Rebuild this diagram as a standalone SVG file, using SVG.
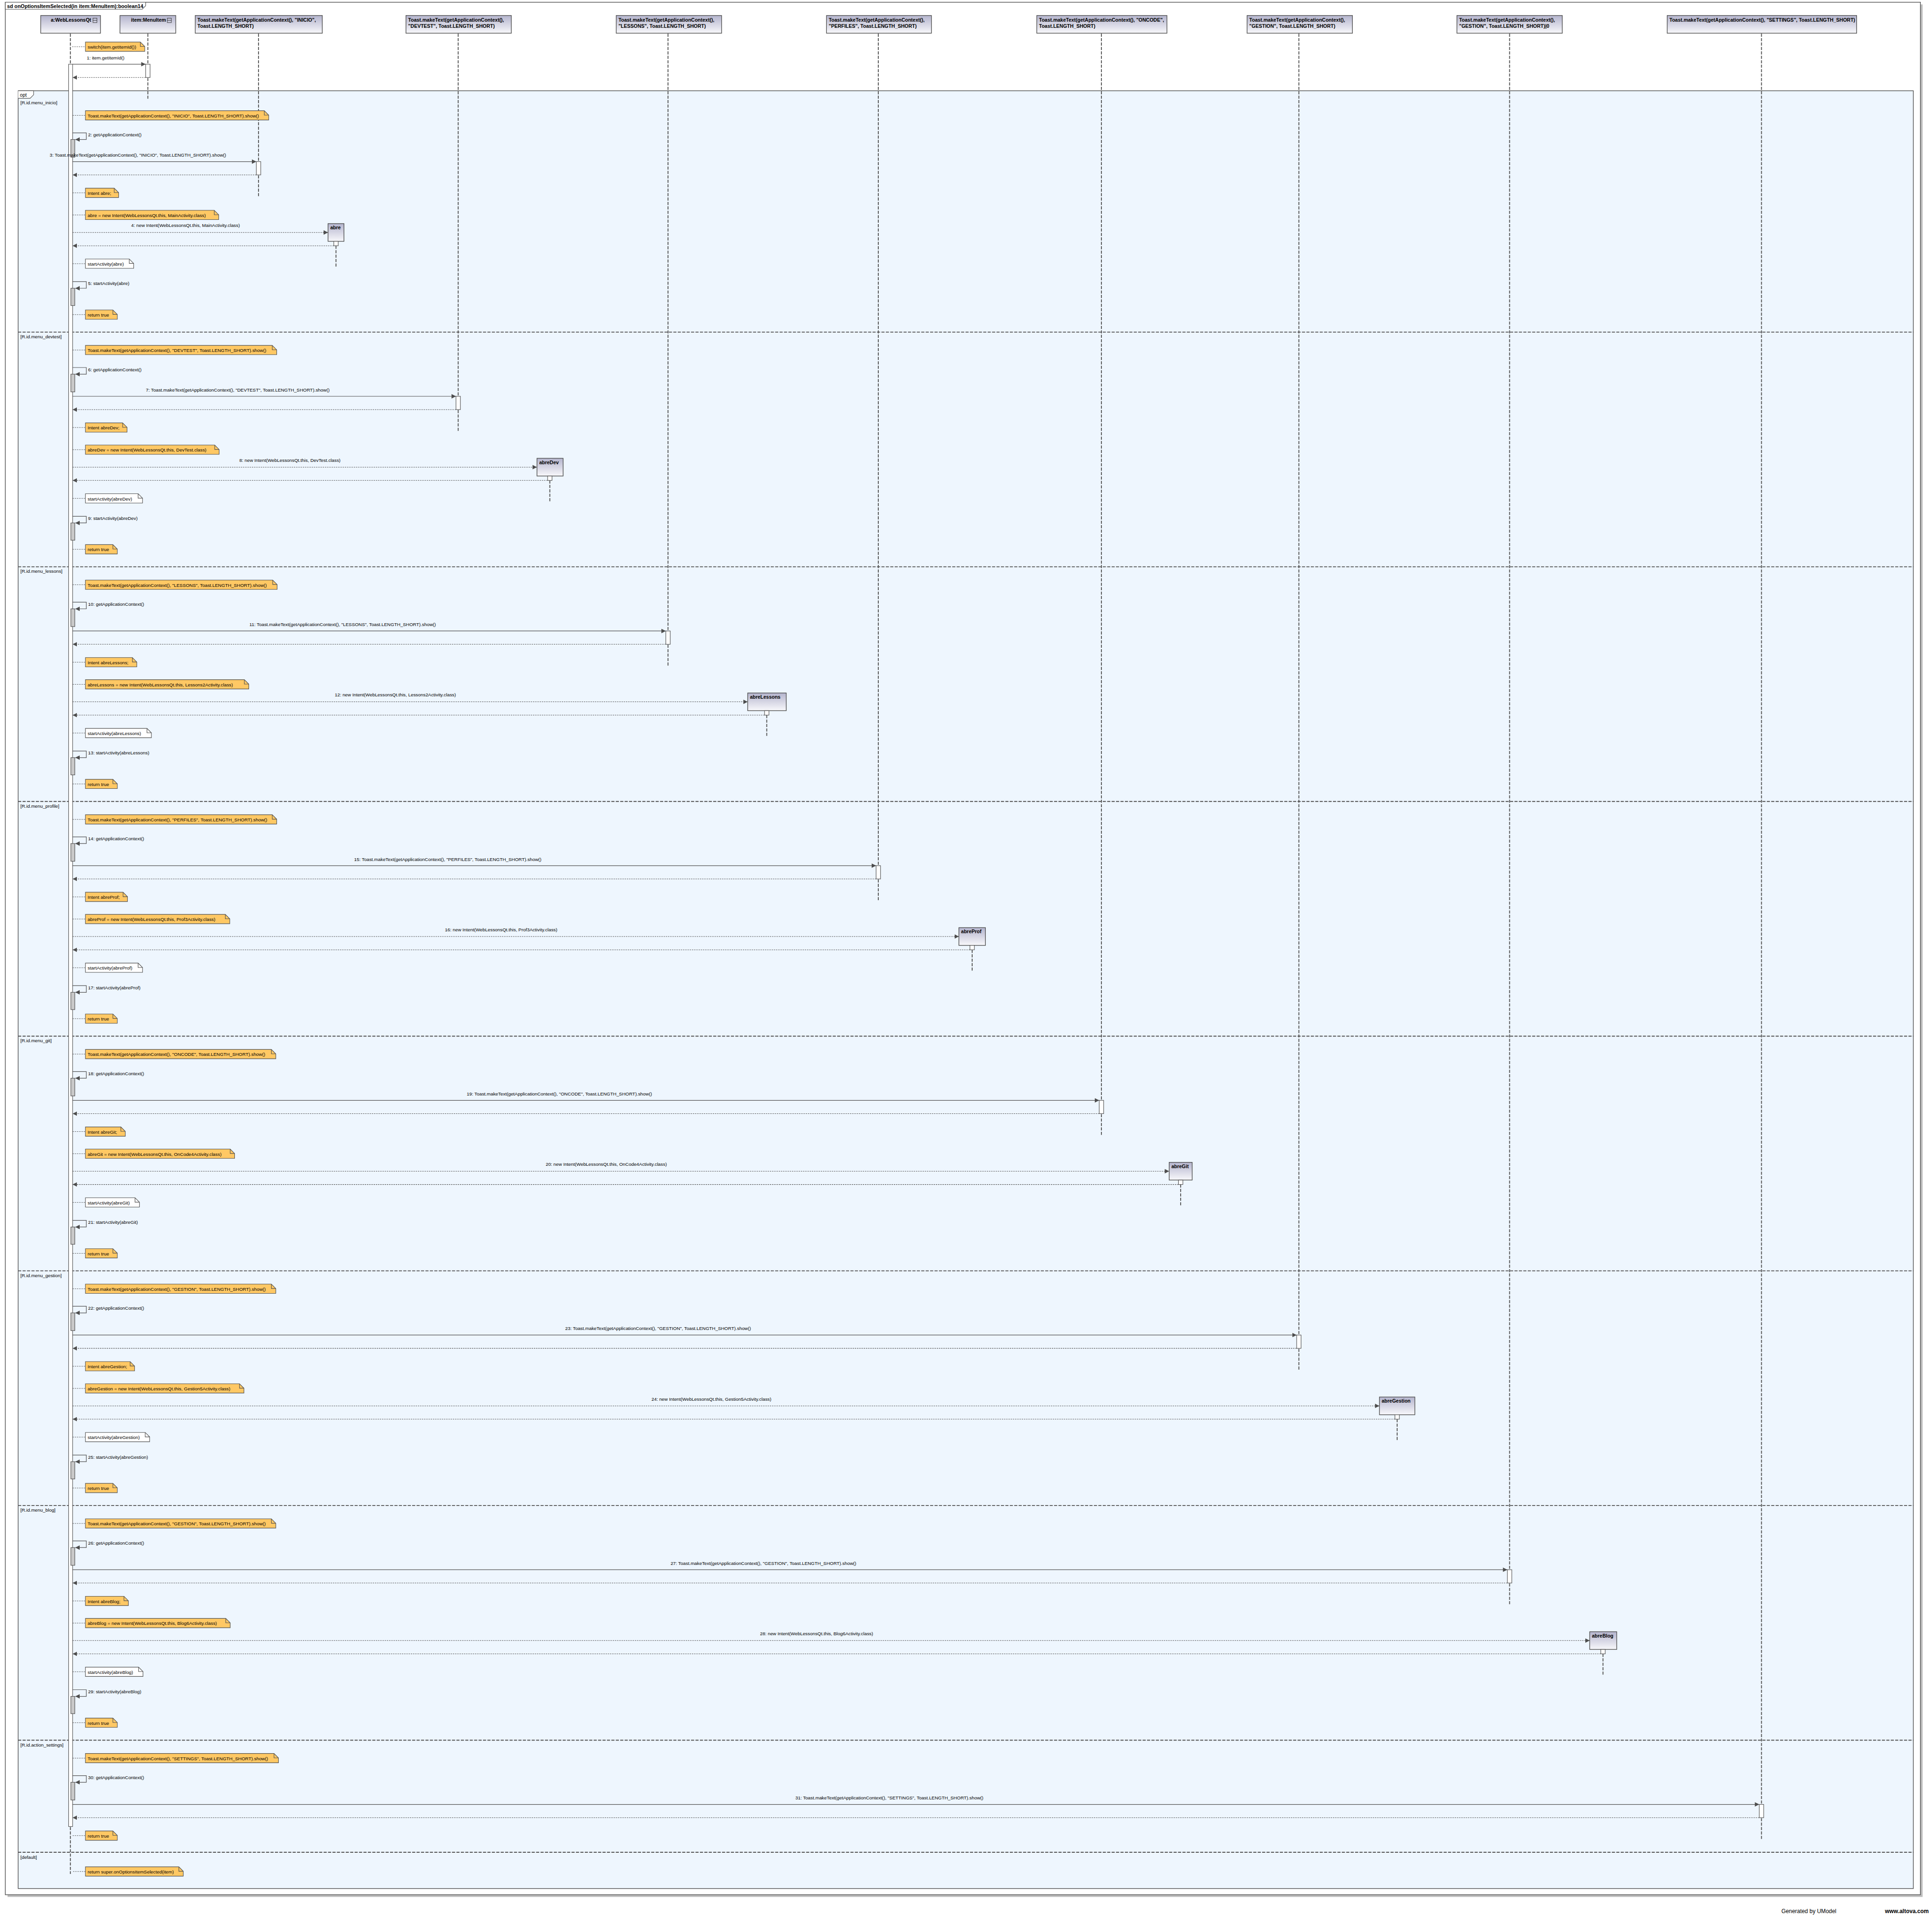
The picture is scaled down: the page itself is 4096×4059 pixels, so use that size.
<svg xmlns="http://www.w3.org/2000/svg" width="4096" height="4059" viewBox="0 0 4096 4059">
<defs>
<style>
text{font-family:"Liberation Sans",Arial,sans-serif;font-size:10.5px;fill:#000}
.b{font-weight:bold;font-size:11.2px}
.m{text-anchor:middle}
.note{fill:#FFC864;stroke:#505050;stroke-width:1.2}
.wnote{fill:#FFFFFF;stroke:#505050;stroke-width:1.2}
.fold{fill:none;stroke:#505050;stroke-width:1.2}
.head{fill:url(#hg);stroke:#505050;stroke-width:1.5}
.ll{stroke:#505050;stroke-width:2;stroke-dasharray:7 3;fill:none}
.sep{stroke:#505050;stroke-width:2;stroke-dasharray:7 3;fill:none}
.msg{stroke:#505050;stroke-width:1.3;fill:none;marker-end:url(#ah)}
.ret{stroke:#505050;stroke-width:1.1;stroke-dasharray:3 2;fill:none;marker-end:url(#ah)}
.lnk{stroke:#505050;stroke-width:1;stroke-dasharray:3 2;fill:none}
.act{fill:#FFFFFF;stroke:#505050;stroke-width:1.2}
.gact{fill:#C8C8C8;stroke:#505050;stroke-width:1.2}
</style>
<linearGradient id="hg" x1="0" y1="0" x2="0" y2="1"><stop offset="0" stop-color="#B4B4CD"/><stop offset="1" stop-color="#F8F8FB"/></linearGradient>
<marker id="ah" markerUnits="userSpaceOnUse" markerWidth="12" markerHeight="12" refX="10" refY="5" orient="auto"><path d="M0,0 L10,5 L0,10 z" fill="#4D4D4D"/></marker>
</defs>
<rect width="4096" height="4059" fill="#FFFFFF"/>
<g transform="scale(0.93855)">
<g id="frame">
<rect x="17" y="10" width="4326" height="4274" fill="#BEBEBE"/>
<rect x="12" y="5" width="4326" height="4274" fill="#FFFFFF" stroke="#505050" stroke-width="1.5"/>
<path d="M12,5 H329 V13 L321,21 H12 z" fill="#FFFFFF" stroke="#505050" stroke-width="1.2"/>
<text x="16" y="18" class="b" style="font-size:11.5px">sd onOptionsItemSelected(in item:MenuItem):boolean14</text>
<rect x="41" y="205" width="4281" height="4060" fill="#EEF6FE" stroke="#505050" stroke-width="1.5"/>
<path d="M41,205 H76 V214 L68,222 H41" fill="#FFFFFF" stroke="#505050" stroke-width="1.2"/>
<text x="45" y="218" style="font-size:11px">opt</text>
<text x="46" y="236">[R.id.menu_inicio]</text>
<path class="sep" d="M41,750H4322M41,1280H4322M41,1810H4322M41,2340H4322M41,2870H4322M41,3400H4322M41,3930H4322M41,4183H4322"/>
<text x="46" y="764">[R.id.menu_devtest]</text>
<text x="46" y="1294">[R.id.menu_lessons]</text>
<text x="46" y="1824">[R.id.menu_profile]</text>
<text x="46" y="2354">[R.id.menu_git]</text>
<text x="46" y="2884">[R.id.menu_gestion]</text>
<text x="46" y="3414">[R.id.menu_blog]</text>
<text x="46" y="3944">[R.id.action_settings]</text>
<text x="46" y="4198">[default]</text>
</g>
<g id="lifelines">
<path class="ll" d="M159,76V4232M334,76V223M584,76V445M1035,76V975M1509,76V1505M1984,76V2035M2488,76V2565M2934,76V3095M3410,76V3625M3979,76V4155"/>
<path class="ll" d="M759,545V605M1242,1075V1135M1732,1605V1665M2196,2135V2195M2667,2665V2725M3156,3195V3255M3621,3725V3785"/>
</g>
<g id="head-a"><rect class="head" x="92" y="35" width="135" height="40"/><text x="206" y="49" class="b" style="text-anchor:end">a:WebLessonsQt</text><rect x="210" y="41" width="9" height="10" fill="none" stroke="#333" stroke-width="1"/><path d="M210,46H219" stroke="#333" stroke-width="1"/></g>
<g id="head-item"><rect class="head" x="271" y="35" width="126" height="40"/><text x="375" y="49" class="b" style="text-anchor:end">item:MenuItem</text><rect x="378" y="41" width="9" height="10" fill="none" stroke="#333" stroke-width="1"/><path d="M378,46H387" stroke="#333" stroke-width="1"/></g>
<g id="head-inicio"><rect class="head" x="441" y="35" width="287" height="40"/><text x="446" y="49" class="b">Toast.makeText(getApplicationContext(), "INICIO",</text><text x="446" y="63" class="b">Toast.LENGTH_SHORT)</text></g>
<g id="head-devtest"><rect class="head" x="917" y="35" width="238" height="40"/><text x="922" y="49" class="b">Toast.makeText(getApplicationContext(),</text><text x="922" y="63" class="b">"DEVTEST", Toast.LENGTH_SHORT)</text></g>
<g id="head-lessons"><rect class="head" x="1392" y="35" width="238" height="40"/><text x="1397" y="49" class="b">Toast.makeText(getApplicationContext(),</text><text x="1397" y="63" class="b">"LESSONS", Toast.LENGTH_SHORT)</text></g>
<g id="head-perfiles"><rect class="head" x="1867" y="35" width="237" height="40"/><text x="1872" y="49" class="b">Toast.makeText(getApplicationContext(),</text><text x="1872" y="63" class="b">"PERFILES", Toast.LENGTH_SHORT)</text></g>
<g id="head-oncode"><rect class="head" x="2342" y="35" width="294" height="40"/><text x="2347" y="49" class="b">Toast.makeText(getApplicationContext(), "ONCODE",</text><text x="2347" y="63" class="b">Toast.LENGTH_SHORT)</text></g>
<g id="head-gestion"><rect class="head" x="2817" y="35" width="238" height="40"/><text x="2822" y="49" class="b">Toast.makeText(getApplicationContext(),</text><text x="2822" y="63" class="b">"GESTION", Toast.LENGTH_SHORT)</text></g>
<g id="head-gestion0"><rect class="head" x="3291" y="35" width="238" height="40"/><text x="3296" y="49" class="b">Toast.makeText(getApplicationContext(),</text><text x="3296" y="63" class="b">"GESTION", Toast.LENGTH_SHORT)|0</text></g>
<g id="head-settings"><rect class="head" x="3766" y="35" width="428" height="40"/><text x="3771" y="49" class="b">Toast.makeText(getApplicationContext(), "SETTINGS", Toast.LENGTH_SHORT)</text></g>
<g id="obj-abre"><rect class="head" x="741" y="505" width="36" height="40"/><text x="746" y="518" class="b">abre</text></g>
<g id="obj-abreDev"><rect class="head" x="1213" y="1035" width="59" height="40"/><text x="1218" y="1048" class="b">abreDev</text></g>
<g id="obj-abreLessons"><rect class="head" x="1689" y="1565" width="87" height="40"/><text x="1694" y="1578" class="b">abreLessons</text></g>
<g id="obj-abreProf"><rect class="head" x="2166" y="2095" width="60" height="40"/><text x="2171" y="2108" class="b">abreProf</text></g>
<g id="obj-abreGit"><rect class="head" x="2641" y="2625" width="52" height="40"/><text x="2646" y="2638" class="b">abreGit</text></g>
<g id="obj-abreGestion"><rect class="head" x="3116" y="3155" width="80" height="40"/><text x="3121" y="3168" class="b">abreGestion</text></g>
<g id="obj-abreBlog"><rect class="head" x="3591" y="3685" width="61" height="40"/><text x="3596" y="3698" class="b">abreBlog</text></g>
<g id="notes">
<g id="n-switch"><path class="note" d="M193,95h124l10,10v11h-134z"/><path class="fold" d="M317,95v10h10"/><text x="198" y="110">switch(item.getItemId())</text></g>
<g id="n1a"><path class="note" d="M193,250h404l10,10v11h-414z"/><path class="fold" d="M597,250v10h10"/><text x="198" y="265">Toast.makeText(getApplicationContext(), "INICIO", Toast.LENGTH_SHORT).show()</text></g>
<g id="n1b"><path class="note" d="M193,425h65l10,10v11h-75z"/><path class="fold" d="M258,425v10h10"/><text x="198" y="440">Intent abre;</text></g>
<g id="n1c"><path class="note" d="M193,475h291l10,10v11h-301z"/><path class="fold" d="M484,475v10h10"/><text x="198" y="490">abre = new Intent(WebLessonsQt.this, MainActivity.class)</text></g>
<g id="n1d"><path class="wnote" d="M193,585h99l10,10v11h-109z"/><path class="fold" d="M292,585v10h10"/><text x="198" y="600">startActivity(abre)</text></g>
<g id="n1e"><path class="note" d="M193,700h62l10,10v11h-72z"/><path class="fold" d="M255,700v10h10"/><text x="198" y="715">return true</text></g>
<g id="n2a"><path class="note" d="M193,780h422l10,10v11h-432z"/><path class="fold" d="M615,780v10h10"/><text x="198" y="795">Toast.makeText(getApplicationContext(), "DEVTEST", Toast.LENGTH_SHORT).show()</text></g>
<g id="n2b"><path class="note" d="M193,955h84l10,10v11h-94z"/><path class="fold" d="M277,955v10h10"/><text x="198" y="970">Intent abreDev;</text></g>
<g id="n2c"><path class="note" d="M193,1005h292l10,10v11h-302z"/><path class="fold" d="M485,1005v10h10"/><text x="198" y="1020">abreDev = new Intent(WebLessonsQt.this, DevTest.class)</text></g>
<g id="n2d"><path class="wnote" d="M193,1115h119l10,10v11h-129z"/><path class="fold" d="M312,1115v10h10"/><text x="198" y="1130">startActivity(abreDev)</text></g>
<g id="n2e"><path class="note" d="M193,1230h62l10,10v11h-72z"/><path class="fold" d="M255,1230v10h10"/><text x="198" y="1245">return true</text></g>
<g id="n3a"><path class="note" d="M193,1310h423l10,10v11h-433z"/><path class="fold" d="M616,1310v10h10"/><text x="198" y="1325">Toast.makeText(getApplicationContext(), "LESSONS", Toast.LENGTH_SHORT).show()</text></g>
<g id="n3b"><path class="note" d="M193,1485h106l10,10v11h-116z"/><path class="fold" d="M299,1485v10h10"/><text x="198" y="1500">Intent abreLessons;</text></g>
<g id="n3c"><path class="note" d="M193,1535h359l10,10v11h-369z"/><path class="fold" d="M552,1535v10h10"/><text x="198" y="1550">abreLessons = new Intent(WebLessonsQt.this, Lessons2Activity.class)</text></g>
<g id="n3d"><path class="wnote" d="M193,1645h139l10,10v11h-149z"/><path class="fold" d="M332,1645v10h10"/><text x="198" y="1660">startActivity(abreLessons)</text></g>
<g id="n3e"><path class="note" d="M193,1760h62l10,10v11h-72z"/><path class="fold" d="M255,1760v10h10"/><text x="198" y="1775">return true</text></g>
<g id="n4a"><path class="note" d="M193,1840h422l10,10v11h-432z"/><path class="fold" d="M615,1840v10h10"/><text x="198" y="1855">Toast.makeText(getApplicationContext(), "PERFILES", Toast.LENGTH_SHORT).show()</text></g>
<g id="n4b"><path class="note" d="M193,2015h85l10,10v11h-95z"/><path class="fold" d="M278,2015v10h10"/><text x="198" y="2030">Intent abreProf;</text></g>
<g id="n4c"><path class="note" d="M193,2065h316l10,10v11h-326z"/><path class="fold" d="M509,2065v10h10"/><text x="198" y="2080">abreProf = new Intent(WebLessonsQt.this, Prof3Activity.class)</text></g>
<g id="n4d"><path class="wnote" d="M193,2175h119l10,10v11h-129z"/><path class="fold" d="M312,2175v10h10"/><text x="198" y="2190">startActivity(abreProf)</text></g>
<g id="n4e"><path class="note" d="M193,2290h62l10,10v11h-72z"/><path class="fold" d="M255,2290v10h10"/><text x="198" y="2305">return true</text></g>
<g id="n5a"><path class="note" d="M193,2370h420l10,10v11h-430z"/><path class="fold" d="M613,2370v10h10"/><text x="198" y="2385">Toast.makeText(getApplicationContext(), "ONCODE", Toast.LENGTH_SHORT).show()</text></g>
<g id="n5b"><path class="note" d="M193,2545h80l10,10v11h-90z"/><path class="fold" d="M273,2545v10h10"/><text x="198" y="2560">Intent abreGit;</text></g>
<g id="n5c"><path class="note" d="M193,2595h327l10,10v11h-337z"/><path class="fold" d="M520,2595v10h10"/><text x="198" y="2610">abreGit = new Intent(WebLessonsQt.this, OnCode4Activity.class)</text></g>
<g id="n5d"><path class="wnote" d="M193,2705h112l10,10v11h-122z"/><path class="fold" d="M305,2705v10h10"/><text x="198" y="2720">startActivity(abreGit)</text></g>
<g id="n5e"><path class="note" d="M193,2820h62l10,10v11h-72z"/><path class="fold" d="M255,2820v10h10"/><text x="198" y="2835">return true</text></g>
<g id="n6a"><path class="note" d="M193,2900h420l10,10v11h-430z"/><path class="fold" d="M613,2900v10h10"/><text x="198" y="2915">Toast.makeText(getApplicationContext(), "GESTION", Toast.LENGTH_SHORT).show()</text></g>
<g id="n6b"><path class="note" d="M193,3075h101l10,10v11h-111z"/><path class="fold" d="M294,3075v10h10"/><text x="198" y="3090">Intent abreGestion;</text></g>
<g id="n6c"><path class="note" d="M193,3125h348l10,10v11h-358z"/><path class="fold" d="M541,3125v10h10"/><text x="198" y="3140">abreGestion = new Intent(WebLessonsQt.this, Gestion5Activity.class)</text></g>
<g id="n6d"><path class="wnote" d="M193,3235h135l10,10v11h-145z"/><path class="fold" d="M328,3235v10h10"/><text x="198" y="3250">startActivity(abreGestion)</text></g>
<g id="n6e"><path class="note" d="M193,3350h62l10,10v11h-72z"/><path class="fold" d="M255,3350v10h10"/><text x="198" y="3365">return true</text></g>
<g id="n7a"><path class="note" d="M193,3430h420l10,10v11h-430z"/><path class="fold" d="M613,3430v10h10"/><text x="198" y="3445">Toast.makeText(getApplicationContext(), "GESTION", Toast.LENGTH_SHORT).show()</text></g>
<g id="n7b"><path class="note" d="M193,3605h87l10,10v11h-97z"/><path class="fold" d="M280,3605v10h10"/><text x="198" y="3620">Intent abreBlog;</text></g>
<g id="n7c"><path class="note" d="M193,3655h317l10,10v11h-327z"/><path class="fold" d="M510,3655v10h10"/><text x="198" y="3670">abreBlog = new Intent(WebLessonsQt.this, Blog6Activity.class)</text></g>
<g id="n7d"><path class="wnote" d="M193,3765h120l10,10v11h-130z"/><path class="fold" d="M313,3765v10h10"/><text x="198" y="3780">startActivity(abreBlog)</text></g>
<g id="n7e"><path class="note" d="M193,3880h62l10,10v11h-72z"/><path class="fold" d="M255,3880v10h10"/><text x="198" y="3895">return true</text></g>
<g id="n8a"><path class="note" d="M193,3960h426l10,10v11h-436z"/><path class="fold" d="M619,3960v10h10"/><text x="198" y="3975">Toast.makeText(getApplicationContext(), "SETTINGS", Toast.LENGTH_SHORT).show()</text></g>
<g id="n8b"><path class="note" d="M193,4135h62l10,10v11h-72z"/><path class="fold" d="M255,4135v10h10"/><text x="198" y="4150">return true</text></g>
<g id="n9"><path class="note" d="M193,4216h211l10,10v11h-221z"/><path class="fold" d="M404,4216v10h10"/><text x="198" y="4231">return super.onOptionsItemSelected(item)</text></g>
</g>
<g id="activations">
<rect class="act" x="329" y="145" width="10" height="30"/>
<rect class="act" x="155" y="145" width="9" height="3980"/>
<rect class="act" x="579" y="365" width="10" height="30"/><rect class="act" x="754" y="545" width="10" height="10"/>
<rect class="act" x="1030" y="895" width="10" height="30"/><rect class="act" x="1237" y="1075" width="10" height="10"/>
<rect class="act" x="1504" y="1425" width="10" height="30"/><rect class="act" x="1727" y="1605" width="10" height="10"/>
<rect class="act" x="1979" y="1955" width="10" height="30"/><rect class="act" x="2191" y="2135" width="10" height="10"/>
<rect class="act" x="2483" y="2485" width="10" height="30"/><rect class="act" x="2662" y="2665" width="10" height="10"/>
<rect class="act" x="2929" y="3015" width="10" height="30"/><rect class="act" x="3151" y="3195" width="10" height="10"/>
<rect class="act" x="3405" y="3545" width="10" height="30"/><rect class="act" x="3616" y="3725" width="10" height="10"/>
<rect class="act" x="3974" y="4075" width="10" height="30"/>
<rect class="gact" x="160" y="315" width="9" height="40"/><rect class="gact" x="160" y="651" width="9" height="39"/>
<rect class="gact" x="160" y="845" width="9" height="40"/><rect class="gact" x="160" y="1181" width="9" height="39"/>
<rect class="gact" x="160" y="1375" width="9" height="40"/><rect class="gact" x="160" y="1711" width="9" height="39"/>
<rect class="gact" x="160" y="1905" width="9" height="40"/><rect class="gact" x="160" y="2241" width="9" height="39"/>
<rect class="gact" x="160" y="2435" width="9" height="40"/><rect class="gact" x="160" y="2771" width="9" height="39"/>
<rect class="gact" x="160" y="2965" width="9" height="40"/><rect class="gact" x="160" y="3301" width="9" height="39"/>
<rect class="gact" x="160" y="3495" width="9" height="40"/><rect class="gact" x="160" y="3831" width="9" height="39"/>
<rect class="gact" x="160" y="4025" width="9" height="40"/>
</g>
<g id="connectors">
<path class="lnk" d="M163,105.5H193M164,260.5H193M164,435.5H193M164,485.5H193M164,595.5H193M164,710.5H193M164,790.5H193M164,965.5H193M164,1015.5H193M164,1125.5H193M164,1240.5H193M164,1320.5H193M164,1495.5H193M164,1545.5H193M164,1655.5H193M164,1770.5H193M164,1850.5H193M164,2025.5H193M164,2075.5H193M164,2185.5H193M164,2300.5H193M164,2380.5H193M164,2555.5H193M164,2605.5H193M164,2715.5H193M164,2830.5H193M164,2910.5H193M164,3085.5H193M164,3135.5H193M164,3245.5H193M164,3360.5H193M164,3440.5H193M164,3615.5H193M164,3665.5H193M164,3775.5H193M164,3890.5H193M164,3970.5H193M164,4145.5H193M165,4226.5H193"/>
<path class="msg" d="M164,145H329"/><path class="ret" d="M329,175H164"/>
<text x="196" y="134">1: item.getItemId()</text>
<path class="msg" d="M164,300H195V315H170"/><text x="199" y="308">2: getApplicationContext()</text>
<path class="msg" d="M164,365H579"/><text x="311.5" y="354" class="m">3: Toast.makeText(getApplicationContext(), "INICIO", Toast.LENGTH_SHORT).show()</text>
<path class="ret" d="M579,395H164"/>
<path class="ret" d="M164,525H741"/><text x="419" y="513" class="m">4: new Intent(WebLessonsQt.this, MainActivity.class)</text>
<path class="ret" d="M754,555H164"/>
<path class="msg" d="M164,636H195V651H170"/><text x="199" y="644">5: startActivity(abre)</text>
<path class="msg" d="M164,830H195V845H170"/><text x="199" y="838">6: getApplicationContext()</text>
<path class="msg" d="M164,895H1030"/><text x="537" y="884" class="m">7: Toast.makeText(getApplicationContext(), "DEVTEST", Toast.LENGTH_SHORT).show()</text>
<path class="ret" d="M1030,925H164"/>
<path class="ret" d="M164,1055H1213"/><text x="655" y="1043" class="m">8: new Intent(WebLessonsQt.this, DevTest.class)</text>
<path class="ret" d="M1237,1085H164"/>
<path class="msg" d="M164,1166H195V1181H170"/><text x="199" y="1174">9: startActivity(abreDev)</text>
<path class="msg" d="M164,1360H195V1375H170"/><text x="199" y="1368">10: getApplicationContext()</text>
<path class="msg" d="M164,1425H1504"/><text x="774" y="1414" class="m">11: Toast.makeText(getApplicationContext(), "LESSONS", Toast.LENGTH_SHORT).show()</text>
<path class="ret" d="M1504,1455H164"/>
<path class="ret" d="M164,1585H1689"/><text x="893" y="1573" class="m">12: new Intent(WebLessonsQt.this, Lessons2Activity.class)</text>
<path class="ret" d="M1727,1615H164"/>
<path class="msg" d="M164,1696H195V1711H170"/><text x="199" y="1704">13: startActivity(abreLessons)</text>
<path class="msg" d="M164,1890H195V1905H170"/><text x="199" y="1898">14: getApplicationContext()</text>
<path class="msg" d="M164,1955H1979"/><text x="1011.5" y="1944" class="m">15: Toast.makeText(getApplicationContext(), "PERFILES", Toast.LENGTH_SHORT).show()</text>
<path class="ret" d="M1979,1985H164"/>
<path class="ret" d="M164,2115H2166"/><text x="1132" y="2103" class="m">16: new Intent(WebLessonsQt.this, Prof3Activity.class)</text>
<path class="ret" d="M2191,2145H164"/>
<path class="msg" d="M164,2226H195V2241H170"/><text x="199" y="2234">17: startActivity(abreProf)</text>
<path class="msg" d="M164,2420H195V2435H170"/><text x="199" y="2428">18: getApplicationContext()</text>
<path class="msg" d="M164,2485H2483"/><text x="1263.5" y="2474" class="m">19: Toast.makeText(getApplicationContext(), "ONCODE", Toast.LENGTH_SHORT).show()</text>
<path class="ret" d="M2483,2515H164"/>
<path class="ret" d="M164,2645H2641"/><text x="1369.5" y="2633" class="m">20: new Intent(WebLessonsQt.this, OnCode4Activity.class)</text>
<path class="ret" d="M2662,2675H164"/>
<path class="msg" d="M164,2756H195V2771H170"/><text x="199" y="2764">21: startActivity(abreGit)</text>
<path class="msg" d="M164,2950H195V2965H170"/><text x="199" y="2958">22: getApplicationContext()</text>
<path class="msg" d="M164,3015H2929"/><text x="1486.5" y="3004" class="m">23: Toast.makeText(getApplicationContext(), "GESTION", Toast.LENGTH_SHORT).show()</text>
<path class="ret" d="M2929,3045H164"/>
<path class="ret" d="M164,3175H3116"/><text x="1607" y="3163" class="m">24: new Intent(WebLessonsQt.this, Gestion5Activity.class)</text>
<path class="ret" d="M3151,3205H164"/>
<path class="msg" d="M164,3286H195V3301H170"/><text x="199" y="3294">25: startActivity(abreGestion)</text>
<path class="msg" d="M164,3480H195V3495H170"/><text x="199" y="3488">26: getApplicationContext()</text>
<path class="msg" d="M164,3545H3405"/><text x="1724.5" y="3534" class="m">27: Toast.makeText(getApplicationContext(), "GESTION", Toast.LENGTH_SHORT).show()</text>
<path class="ret" d="M3405,3575H164"/>
<path class="ret" d="M164,3705H3591"/><text x="1844.5" y="3693" class="m">28: new Intent(WebLessonsQt.this, Blog6Activity.class)</text>
<path class="ret" d="M3616,3735H164"/>
<path class="msg" d="M164,3816H195V3831H170"/><text x="199" y="3824">29: startActivity(abreBlog)</text>
<path class="msg" d="M164,4010H195V4025H170"/><text x="199" y="4018">30: getApplicationContext()</text>
<path class="msg" d="M164,4075H3974"/><text x="2009" y="4064" class="m">31: Toast.makeText(getApplicationContext(), "SETTINGS", Toast.LENGTH_SHORT).show()</text>
<path class="ret" d="M3974,4105H164"/>
</g>
<g id="footer">
<text x="4024" y="4321" style="font-size:12.7px">Generated by UModel</text>
<text x="4258" y="4321" style="font-size:12.7px;font-weight:bold">www.altova.com</text>
</g>
</g>
</svg>
